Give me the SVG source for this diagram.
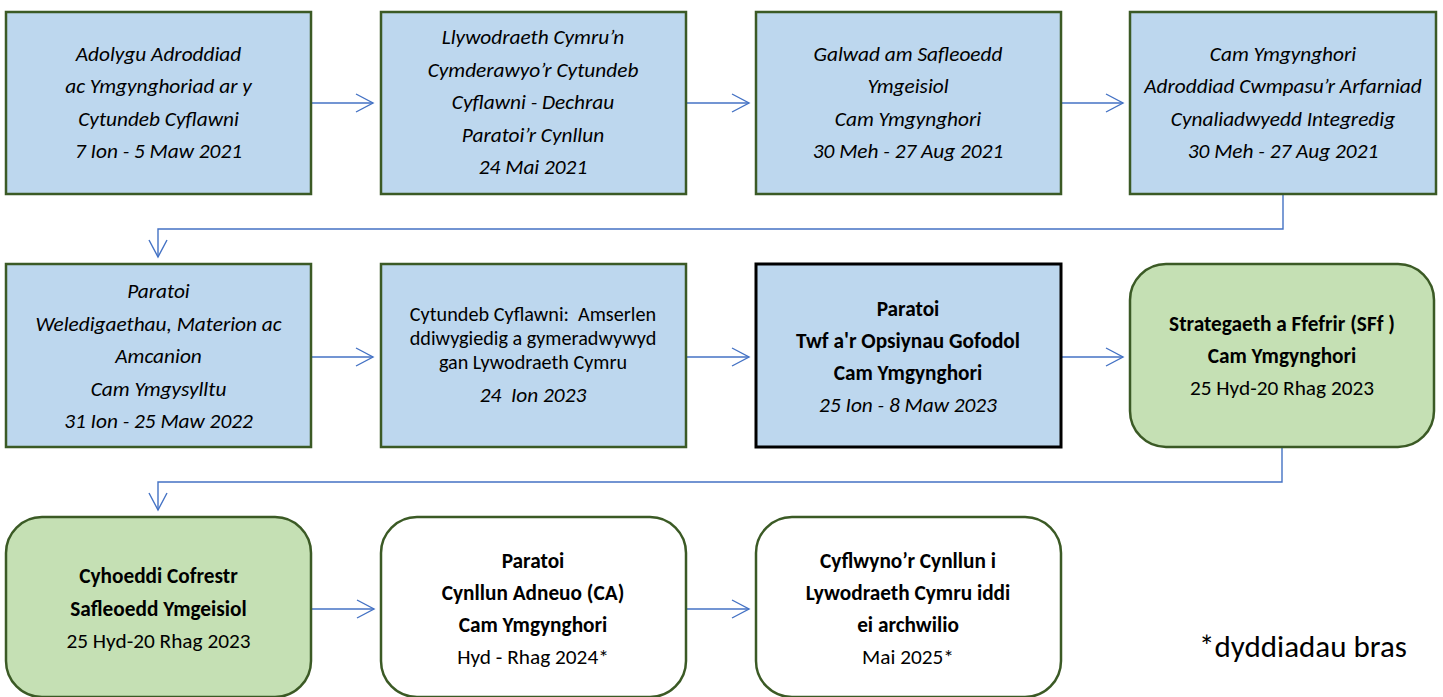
<svg xmlns="http://www.w3.org/2000/svg" width="1443" height="697" viewBox="0 0 1443 697">
<style>
.box{fill:#BDD7EE;stroke:#3B5A25;stroke-width:2.5}
.boxk{fill:#BDD7EE;stroke:#000;stroke-width:3}
.gr{fill:#C5E0B4;stroke:#3B5A25;stroke-width:2.5}
.wh{fill:#fff;stroke:#3B5A25;stroke-width:2.5}
text{font-family:Carlito,Lato,"Liberation Sans",sans-serif;font-size:21.3px;fill:#000;text-anchor:middle}
.i{font-style:italic}
.b{font-weight:bold}
.t{font-size:20.2px}
.c{fill:none;stroke:#4472C4;stroke-width:1.4;marker-end:url(#ah)}
</style>
<defs>
<marker id="ah" markerUnits="userSpaceOnUse" markerWidth="20" markerHeight="20" refX="17" refY="9" orient="auto" viewBox="-1 -1 20 20">
<path d="M0,0 L17,9 L0,18" fill="none" stroke="#4472C4" stroke-width="1.4"/>
</marker>
</defs>
<g id="connectors">
<path class="c" d="M311,103 H373"/>
<path class="c" d="M686,103 H749"/>
<path class="c" d="M1061,103 H1123"/>
<path class="c" d="M1283,194 V229 H158 V257"/>
<path class="c" d="M311,357 H373"/>
<path class="c" d="M686,357 H749"/>
<path class="c" d="M1061,357 H1123"/>
<path class="c" d="M1282,447 V482 H158 V510"/>
<path class="c" d="M311,609 H374"/>
<path class="c" d="M686,609 H749"/>
</g>
<g id="n1">
<rect class="box" x="6" y="12" width="305" height="182"/>
<text class="i" x="158.5" y="61">Adolygu Adroddiad</text>
<text class="i" x="158.5" y="93">ac Ymgynghoriad ar y</text>
<text class="i" x="158.5" y="126">Cytundeb Cyflawni</text>
<text class="i" x="158.5" y="158">7 Ion - 5 Maw 2021</text>
</g>
<g id="n2">
<rect class="box" x="381" y="12" width="305" height="182"/>
<text class="i" x="533" y="44">Llywodraeth Cymru’n</text>
<text class="i" x="533" y="77">Cymderawyo’r Cytundeb</text>
<text class="i" x="533" y="109">Cyflawni - Dechrau</text>
<text class="i" x="533" y="142">Paratoi’r Cynllun</text>
<text class="i" x="533" y="174">24 Mai 2021</text>
</g>
<g id="n3">
<rect class="box" x="756" y="12" width="305" height="182"/>
<text class="i" x="908" y="61">Galwad am Safleoedd</text>
<text class="i" x="908" y="93">Ymgeisiol</text>
<text class="i" x="908" y="126">Cam Ymgynghori</text>
<text class="i" x="908" y="158">30 Meh - 27 Aug 2021</text>
</g>
<g id="n4">
<rect class="box" x="1130" y="12" width="306" height="182"/>
<text class="i" x="1283" y="61">Cam Ymgynghori</text>
<text class="i" x="1283" y="93">Adroddiad Cwmpasu’r Arfarniad</text>
<text class="i" x="1283" y="126">Cynaliadwyedd Integredig</text>
<text class="i" x="1283" y="158">30 Meh - 27 Aug 2021</text>
</g>
<g id="n5">
<rect class="box" x="6" y="264" width="305" height="183"/>
<text class="i" x="158.5" y="298">Paratoi</text>
<text class="i" x="158.5" y="331">Weledigaethau, Materion ac</text>
<text class="i" x="158.5" y="363">Amcanion</text>
<text class="i" x="158.5" y="396">Cam Ymgysylltu</text>
<text class="i" x="158.5" y="428">31 Ion - 25 Maw 2022</text>
</g>
<g id="n6">
<rect class="box" x="381" y="264" width="305" height="183"/>
<text class="t" x="533" y="321" xml:space="preserve">Cytundeb Cyflawni:  Amserlen</text>
<text class="t" x="533" y="345">ddiwygiedig a gymeradwywyd</text>
<text class="t" x="533" y="369">gan Lywodraeth Cymru</text>
<text class="i" x="533" y="402" xml:space="preserve">24  Ion 2023</text>
</g>
<g id="n7">
<rect class="boxk" x="756" y="264" width="305" height="183"/>
<text class="b" x="908" y="316">Paratoi</text>
<text class="b" x="908" y="348">Twf a'r Opsiynau Gofodol</text>
<text class="b" x="908" y="380">Cam Ymgynghori</text>
<text class="i" x="908" y="412">25 Ion - 8 Maw 2023</text>
</g>
<g id="n8">
<rect class="gr" x="1130" y="264" width="304" height="183" rx="36" ry="36"/>
<text class="b" x="1282" y="331">Strategaeth a Ffefrir (SFf )</text>
<text class="b" x="1282" y="363">Cam Ymgynghori</text>
<text x="1282" y="395">25 Hyd-20 Rhag 2023</text>
</g>
<g id="n9">
<rect class="gr" x="6" y="517" width="305" height="180" rx="36" ry="36"/>
<text class="b" x="158.5" y="583">Cyhoeddi Cofrestr</text>
<text class="b" x="158.5" y="616">Safleoedd Ymgeisiol</text>
<text x="158.5" y="648">25 Hyd-20 Rhag 2023</text>
</g>
<g id="n10">
<rect class="wh" x="381" y="517" width="305" height="180" rx="36" ry="36"/>
<text class="b" x="533" y="568">Paratoi</text>
<text class="b" x="533" y="600">Cynllun Adneuo (CA)</text>
<text class="b" x="533" y="632">Cam Ymgynghori</text>
<text x="533" y="664">Hyd - Rhag 2024*</text>
</g>
<g id="n11">
<rect class="wh" x="756" y="517" width="305" height="180" rx="36" ry="36"/>
<text class="b" x="908" y="568">Cyflwyno’r Cynllun i</text>
<text class="b" x="908" y="600">Lywodraeth Cymru iddi</text>
<text class="b" x="908" y="632">ei archwilio</text>
<text x="908" y="664">Mai 2025*</text>
</g>
<g id="note">
<text x="1303" y="657" style="font-size:31px">*dyddiadau bras</text>
</g>
</svg>
